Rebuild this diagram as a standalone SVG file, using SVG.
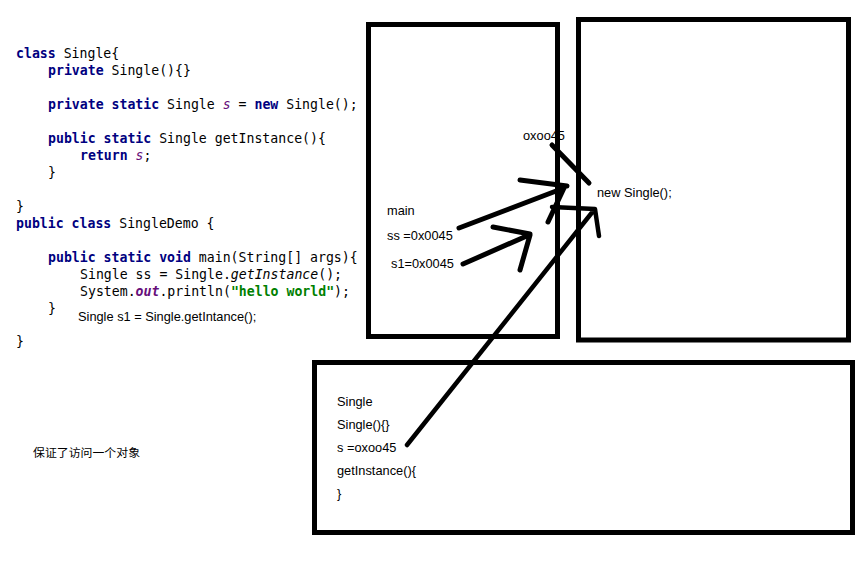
<svg xmlns="http://www.w3.org/2000/svg" width="860" height="572" viewBox="0 0 860 572">
<style>
.code{font-family:"DejaVu Sans Mono","Liberation Mono",monospace;font-size:13.2px;fill:#000;white-space:pre}
.kw{fill:#000080;font-weight:bold}
.fld{fill:#660E7A;font-style:italic}
.it{font-style:italic}
.str{fill:#008000;font-weight:bold}
.lbl{font-family:"Liberation Sans","Noto Sans CJK SC",sans-serif;font-size:12.8px;fill:#000}
.cjk{font-family:"Noto Sans CJK SC","Liberation Sans",sans-serif;font-size:11.9px;fill:#000}
.box{fill:none;stroke:#000;stroke-width:5}
.ink{fill:none;stroke:#000;stroke-width:5;stroke-linecap:round;stroke-linejoin:round}
.thin{stroke-width:4.5}
</style>
<rect width="860" height="572" fill="#fff"/>
<g id="code">
<text class="code" x="16" y="58"><tspan class="kw">class</tspan> Single{</text>
<text class="code" x="48" y="75"><tspan class="kw">private</tspan> Single(){}</text>
<text class="code" x="48" y="109"><tspan class="kw">private static</tspan> Single <tspan class="fld">s</tspan> = <tspan class="kw">new</tspan> Single();</text>
<text class="code" x="48" y="143"><tspan class="kw">public static</tspan> Single getInstance(){</text>
<text class="code" x="80" y="160"><tspan class="kw">return</tspan> <tspan class="fld">s</tspan>;</text>
<text class="code" x="48" y="177">}</text>
<text class="code" x="16" y="211">}</text>
<text class="code" x="16" y="228"><tspan class="kw">public class</tspan> SingleDemo {</text>
<text class="code" x="48" y="262"><tspan class="kw">public static void</tspan> main(String[] args){</text>
<text class="code" x="80" y="279">Single ss = Single.<tspan class="it">getInstance</tspan>();</text>
<text class="code" x="80" y="296">System.<tspan class="fld" style="font-weight:bold">out</tspan>.println(<tspan class="str">"hello world"</tspan>);</text>
<text class="code" x="48" y="313">}</text>
<text class="lbl" x="78" y="321">Single s1 = Single.getIntance();</text>
<text class="code" x="16" y="346">}</text>
</g>
<g id="note">
<text class="cjk" x="33" y="457">保证了访问一个对象</text>
</g>
<g id="heap">
<rect class="box" x="578.5" y="19.5" width="270" height="320.5"/>
<text class="lbl" x="523" y="140">oxoo45</text>
<text class="lbl" x="597" y="197">new Single();</text>
</g>
<g id="stack">
<rect class="box" x="368.5" y="24.5" width="189" height="312"/>
<text class="lbl" x="387" y="215">main</text>
<text class="lbl" x="387" y="240">ss =0x0045</text>
<text class="lbl" x="391" y="268">s1=0x0045</text>
</g>
<g id="classArea">
<rect class="box" x="314.5" y="362.5" width="538" height="170"/>
<text class="lbl" x="337" y="406">Single</text>
<text class="lbl" x="337" y="429">Single(){}</text>
<text class="lbl" x="337" y="452">s =oxoo45</text>
<text class="lbl" x="337" y="475">getInstance(){</text>
<text class="lbl" x="337" y="498">}</text>
</g>
<g id="connectors">
<path class="ink" d="M552 145 L589 183"/>
<path class="ink" d="M459 228 L564 188 M520 180 L567 186 M564 188 L548 222"/>
<path class="ink" d="M463 264 L529 235 M493 227 L530 234 M530 235 L520 270"/>
<path class="ink thin" d="M407 445 L594 210 M552 207 L595 209 L599 236"/>
</g>
</svg>
